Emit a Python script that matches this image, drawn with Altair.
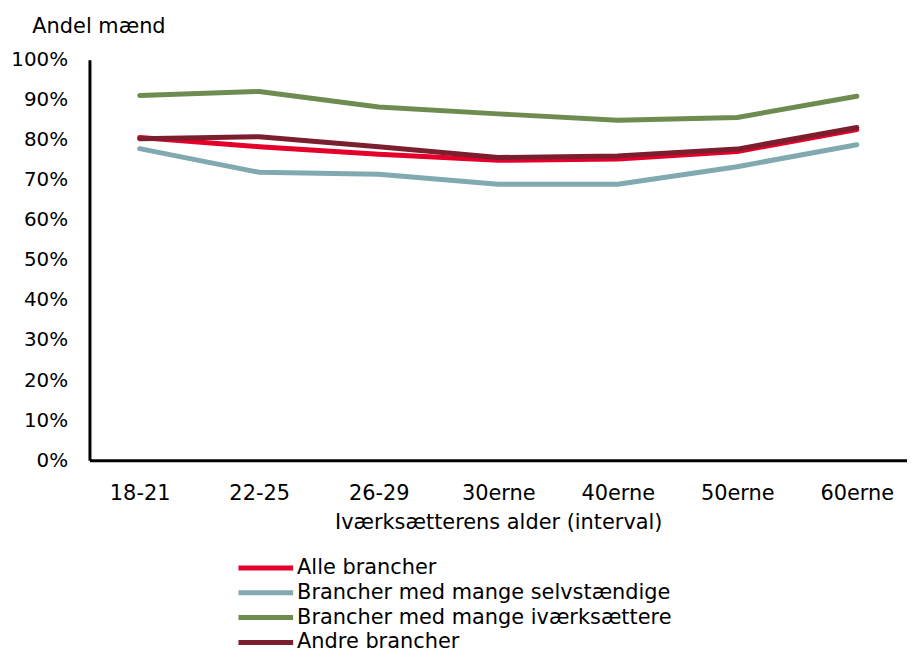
import altair as alt
import pandas as pd

categories = ["18-21", "22-25", "26-29", "30erne", "40erne", "50erne", "60erne"]
series_names = [
    "Alle brancher",
    "Brancher med mange selvstændige",
    "Brancher med mange iværksættere",
    "Andre brancher",
]
alle = [80.6, 78.3, 76.4, 74.9, 75.2, 77.1, 82.6]
selvst = [77.8, 71.9, 71.4, 68.9, 68.9, 73.3, 78.8]
ivaerk = [91.1, 92.1, 88.2, 86.5, 84.9, 85.6, 90.9]
andre = [80.3, 80.8, 78.3, 75.6, 76.0, 77.7, 83.1]
colors = ["#E4002B", "#80A9B0", "#6E8B50", "#7B1F2E"]

rows = []
for name, vals in zip(series_names, [alle, selvst, ivaerk, andre]):
    for c, v in zip(categories, vals):
        rows.append({"alder": c, "serie": name, "andel": v / 100})
df = pd.DataFrame(rows)

FONT = "DejaVu Sans"

chart = (
    alt.Chart(df)
    .mark_line(strokeWidth=5, strokeCap="round", strokeJoin="round")
    .encode(
        x=alt.X(
            "alder:N",
            sort=categories,
            scale=alt.Scale(type="point", padding=0.42),
            axis=alt.Axis(
                title="Iværksætterens alder (interval)",
                labelAngle=0,
                ticks=False,
                labelPadding=23,
                titlePadding=8,
                labelFontSize=21,
                domainColor="black",
                domainWidth=3,
                grid=False,
            ),
        ),
        y=alt.Y(
            "andel:Q",
            scale=alt.Scale(domain=[0, 1]),
            axis=alt.Axis(
                title="Andel mænd",
                format=".0%",
                values=[i / 10 for i in range(11)],
                ticks=False,
                labelPadding=22,
                labelFontSize=20,
                grid=False,
                domainColor="black",
                domainWidth=3,
                titleAngle=0,
                titleAlign="left",
                titleBaseline="alphabetic",
                titleX=-58,
                titleY=-27,
            ),
        ),
        color=alt.Color(
            "serie:N",
            sort=series_names,
            scale=alt.Scale(domain=series_names, range=colors),
            legend=alt.Legend(
                title=None,
                orient="none",
                legendX=165,
                legendY=499,
                direction="vertical",
                symbolType="M-2.75,0H2.75",
                symbolSize=400,
                symbolStrokeWidth=5,
                labelOffset=19,
                rowPadding=2,
                labelFontSize=21,
                labelFont=FONT,
                labelColor="black",
                labelLimit=700,
            ),
        ),
        order=alt.Order("serie_order:Q"),
    )
    .transform_calculate(
        serie_order="indexof(" + str(series_names) + ", datum.serie)"
    )
    .properties(width=823, height=403)
    .configure_axis(
        labelFont=FONT,
        titleFont=FONT,
        titleFontSize=21,
        labelColor="black",
        titleColor="black",
        titleFontWeight="normal",
    )
    .configure_view(stroke=None)
    .properties(padding={"left": 2, "top": 6, "right": 0, "bottom": 0})
)

chart.save("out.html", embed_options={"renderer": "svg", "actions": False})
